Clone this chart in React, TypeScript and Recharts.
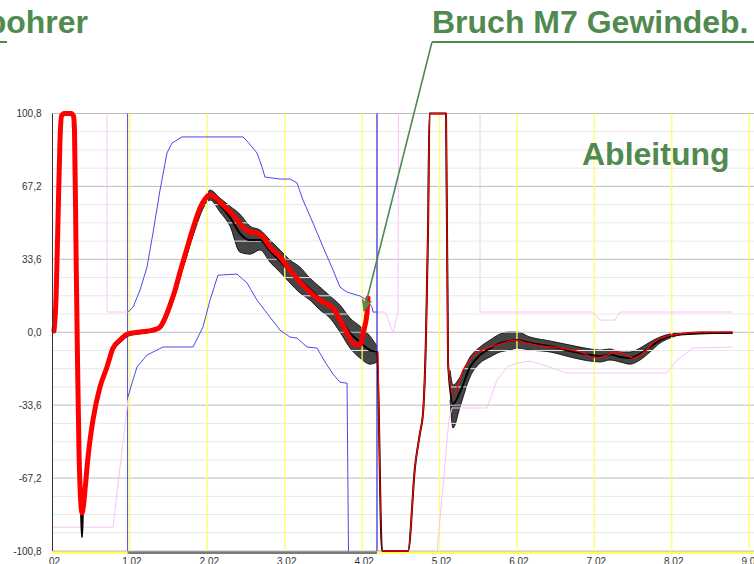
import React from "react";
import { Area, ComposedChart, Line, ReferenceArea, ReferenceLine, XAxis, YAxis } from "recharts";

// x = time (axis labels 02, 1.02 ... 9.02), y = derivative value

type Pt = [number, number];
type Band = [number, number, number];

const xTicks = [0.02, 1.02, 2.02, 3.02, 4.02, 5.02, 6.02, 7.02, 8.02, 9.02];
const yTicks = [-100.8, -67.2, -33.6, 0, 33.6, 67.2, 100.8];

// thick red: current measurement (breaks at ~4.1)
const redCurrent: Pt[] = [
    [0.039, 0.6], [0.065, 14.8], [0.091, 51.7], [0.117, 88.6], [0.136, 99.6], [0.169, 100.8], [0.259, 100.8],
    [0.291, 99.6], [0.304, 93.2], [0.324, 37.9], [0.343, -12.8], [0.362, -54.3], [0.388, -79.6], [0.401, -83.3],
    [0.421, -79.6], [0.44, -72.7], [0.479, -57.5], [0.543, -40.4], [0.634, -25.2], [0.724, -16.0], [0.802, -7.3],
    [0.892, -3.6], [0.995, -0.8], [1.15, 0.1], [1.318, 1.0], [1.409, 2.4], [1.473, 6.5], [1.538, 12.5],
    [1.603, 19.4], [1.667, 27.7], [1.732, 35.6], [1.796, 43.4], [1.861, 50.8], [1.926, 57.2], [1.99, 61.4],
    [2.055, 63.2], [2.223, 58.6], [2.352, 54.0], [2.481, 48.5], [2.572, 46.2], [2.662, 45.7], [2.74, 43.9],
    [2.83, 39.3], [2.959, 34.7], [3.088, 28.7], [3.218, 23.1], [3.347, 18.5], [3.476, 14.8], [3.566, 13.0],
    [3.644, 11.1], [3.734, 5.6], [3.825, -0.4], [3.903, -5.0], [3.993, -5.9], [4.032, -0.4], [4.083, 8.8],
    [4.096, 15.8],
];

// thin red: reference curve after the break
const redReference: Pt[] = [
    [4.225, -9.1], [4.277, -100.8], [4.613, -100.8], [4.703, -62.1], [4.768, -46.4], [4.807, -37.2],
    [4.846, -0.4], [4.871, 45.7], [4.891, 100.8], [5.104, 100.8], [5.13, -14.2], [5.194, -28.9], [5.324, -17.4],
    [5.504, -9.6], [5.763, -5.9], [6.021, -3.6], [6.099, -4.5], [6.28, -5.9], [6.577, -7.3], [6.835, -9.1],
    [7.055, -11.9], [7.184, -10.5], [7.326, -9.1], [7.52, -11.9], [7.649, -9.6], [7.778, -5.0], [7.959, -1.8],
    [8.218, -0.4], [8.424, 0.1], [8.799, 0.1],
];

// black: core of the good-part ensemble
const ensembleCore: Pt[] = [
    [0.039, 0.6], [0.065, 14.8], [0.091, 51.7], [0.117, 88.6], [0.136, 99.6], [0.169, 100.8], [0.259, 100.8],
    [0.291, 99.6], [0.304, 93.2], [0.324, 37.9], [0.343, -12.8], [0.362, -54.3], [0.388, -82.0], [0.401, -94.4],
    [0.415, -80.0], [0.44, -72.7], [0.479, -58.5], [0.543, -41.5], [0.634, -26.5], [0.724, -17.0], [0.802, -8.3],
    [0.892, -4.5], [0.995, -1.5], [1.15, -0.5], [1.318, 0.5], [1.409, 1.6], [1.473, 5.2], [1.538, 10.8],
    [1.603, 17.5], [1.667, 25.5], [1.732, 33.6], [1.796, 41.5], [1.861, 49.0], [1.926, 56.0], [1.99, 60.5],
    [2.055, 62.5], [2.184, 58.5], [2.313, 53.0], [2.442, 45.5], [2.572, 42.5], [2.701, 42.5], [2.83, 37.5],
    [2.959, 32.8], [3.088, 28.0], [3.218, 24.0], [3.347, 19.8], [3.476, 15.5], [3.605, 11.6], [3.734, 6.3],
    [3.864, -0.4], [3.993, -4.5], [4.122, -8.3], [4.212, -9.1], [4.277, -100.8], [4.613, -100.8], [4.703, -62.1],
    [4.768, -46.4], [4.807, -37.2], [4.846, -0.4], [4.871, 45.7], [4.891, 100.8], [5.104, 100.8], [5.13, -14.2],
    [5.194, -33.0], [5.285, -27.5], [5.414, -16.0], [5.543, -10.5], [5.672, -7.5], [5.802, -5.0], [5.931, -4.0],
    [6.021, -3.6], [6.189, -5.0], [6.447, -6.5], [6.706, -8.6], [6.964, -10.5], [7.093, -11.0], [7.222, -10.3],
    [7.351, -11.4], [7.48, -11.9], [7.609, -10.0], [7.738, -6.8], [7.868, -3.6], [7.998, -1.8], [8.127, -0.9],
    [8.385, -0.4], [8.799, -0.2],
];

// ensemble spread [t, low, high]
const ensembleBandLeft: Band[] = [
    [1.732, 32.3, 37.0], [1.861, 47.1, 51.7], [1.99, 58.6, 62.3], [2.055, 60.9, 65.5], [2.184, 55.4, 61.8],
    [2.313, 48.9, 58.1], [2.442, 36.9, 54.4], [2.572, 36.0, 48.9], [2.701, 37.9, 47.1], [2.83, 32.3, 42.5],
    [2.959, 27.7, 37.9], [3.088, 22.7, 33.3], [3.218, 18.1, 30.0], [3.347, 14.8, 24.9], [3.476, 10.2, 20.8],
    [3.605, 6.5, 16.7], [3.734, 0.1, 12.5], [3.864, -7.3, 6.5], [3.993, -11.9, 2.8], [4.122, -14.7, -1.8],
    [4.212, -13.8, -6.4],
];
const ensembleBandRight: Band[] = [
    [5.156, -31.2, -17.4], [5.194, -44.1, -24.3], [5.285, -34.4, -20.6], [5.414, -20.6, -11.4],
    [5.543, -14.2, -6.8], [5.672, -11.4, -3.6], [5.802, -9.1, -0.8], [5.931, -8.2, 0.1], [6.021, -7.3, 0.1],
    [6.189, -8.2, -2.2], [6.447, -9.1, -4.0], [6.706, -11.4, -5.9], [6.964, -13.3, -7.7], [7.093, -13.7, -8.2],
    [7.222, -12.8, -7.7], [7.351, -13.7, -9.1], [7.48, -14.7, -9.1], [7.61, -12.8, -7.3], [7.739, -9.1, -4.5],
    [7.868, -5.0, -2.2], [7.998, -2.7, -0.8], [8.127, -1.3, -0.4], [8.385, -0.8, 0.1], [8.799, -0.4, 0.1],
];

// blue tolerance envelope
const blueUpper: Pt[] = [
    [0.995, 9.3], [1.06, 11.5], [1.15, 19.4], [1.241, 30.0], [1.318, 45.7], [1.409, 65.5], [1.499, 82.6],
    [1.564, 87.2], [1.693, 90.0], [2.481, 90.0], [2.546, 87.6], [2.662, 82.6], [2.727, 76.1], [2.765, 71.5],
    [2.959, 70.6], [3.088, 70.6], [3.179, 68.8], [3.256, 60.9], [3.386, 50.3], [3.515, 39.3], [3.644, 28.7],
    [3.734, 20.8], [3.825, 18.5], [3.993, 16.7], [4.083, 14.8], [4.148, 11.6], [4.161, 9.3], [4.225, 9.3],
];
const blueLower: Pt[] = [
    [0.995, -29.9], [1.047, -23.4], [1.112, -16.0], [1.241, -10.5], [1.448, -6.8], [1.835, -6.8], [1.964, 2.4],
    [2.055, 14.8], [2.158, 26.3], [2.404, 26.8], [2.533, 22.7], [2.662, 14.8], [2.791, 8.8], [2.959, 1.0],
    [3.088, -2.2], [3.179, -2.7], [3.308, -6.8], [3.437, -7.3], [3.541, -13.7], [3.644, -19.3], [3.734, -23.0],
    [3.825, -23.5], [3.844, -100.8],
];

// pink envelope pieces
const pinkUpperA: Pt[] = [[0.724, 100.8], [0.724, 9.3], [0.995, 9.3]];
const pinkUpperB: Pt[] = [[4.225, 9.3], [4.32, 9.3], [4.419, -0.4], [4.484, 9.3], [4.49, 100.8]];
const pinkUpperC: Pt[] = [
    [5.543, 100.8], [5.543, 9.3], [7.003, 9.3], [7.093, 5.6], [7.287, 5.6], [7.351, 9.3], [8.799, 9.3],
];
const pinkLowerA: Pt[] = [[0.026, -89.8], [0.802, -89.8], [0.995, -31.2]];
const pinkLowerB: Pt[] = [
    [4.988, -100.8], [5.143, -40.0], [5.182, -34.9], [5.634, -34.9], [5.763, -22.0], [5.892, -16.0],
    [6.021, -14.2], [6.189, -13.3], [6.357, -15.1], [6.667, -18.8], [7.959, -18.8], [8.088, -12.8],
    [8.295, -7.3], [8.799, -6.8],
];

const rows = (pts: Pt[]) => pts.map(([t, v]) => ({ t, v }));
const bandRows = (pts: Band[]) => pts.map(([t, lo, hi]) => ({ t, range: [lo, hi] }));

const FONT = "'Liberation Sans', Arial, sans-serif";
const GREEN = "#508a50";
const BLUE = "#4a4af0";
const PINK = "#f8c4f8";

const minorGrid: number[] = [];
for (let k = -11; k <= 11; k++) if (k % 4 !== 0) minorGrid.push(Number((k * 8.4).toFixed(1)));

export default function App() {
    const line = (data: Pt[], stroke: string, width: number, type: "linear" | "monotone" = "linear") => (
        <Line
            data={rows(data)}
            dataKey="v"
            type={type}
            stroke={stroke}
            strokeWidth={width}
            dot={false}
            activeDot={false}
            isAnimationActive={false}
            strokeLinejoin="round"
            strokeLinecap="round"
        />
    );

    const band = (data: Band[]) => (
        <Area
            data={bandRows(data)}
            dataKey="range"
            type="monotone"
            stroke="#000"
            strokeWidth={0.8}
            fill="#111"
            fillOpacity={0.78}
            isAnimationActive={false}
            dot={false}
            activeDot={false}
        />
    );

    return (
        <div style={{ position: "fixed", left: 0, top: 0, width: 754, height: 564, overflow: "hidden", background: "#fff", fontFamily: FONT }}>
            <ComposedChart width={760} height={564} margin={{ top: 113.5, right: 0, bottom: 0, left: 0 }}>
                <XAxis
                    type="number"
                    dataKey="t"
                    domain={[0.02, 9.16]}
                    ticks={xTicks}
                    tickFormatter={(v: number) => (v === 0.02 ? "02" : v.toFixed(2))}
                    height={13}
                    tickLine={false}
                    axisLine={false}
                    tickSize={0}
                    tickMargin={7}
                    tick={{ fontSize: 10, fill: "#333", fontFamily: FONT, dx: 2 }}
                />
                <YAxis
                    type="number"
                    domain={[-100.8, 100.8]}
                    ticks={yTicks}
                    width={52.5}
                    tickFormatter={(v: number) => v.toFixed(1).replace(".", ",")}
                    tickLine={false}
                    tickSize={0}
                    tickMargin={11}
                    axisLine={{ stroke: "#333" }}
                    tick={{ fontSize: 10, fill: "#333", fontFamily: FONT }}
                />
                {minorGrid.map((v) => (
                    <ReferenceLine key={"mn" + v} y={v} stroke="#e8e8e8" strokeWidth={1} />
                ))}
                {yTicks.map((v) => (
                    <ReferenceLine key={"mj" + v} y={v} stroke="#bdbdbd" strokeWidth={1} />
                ))}
                {xTicks.slice(1).map((v) => (
                    <ReferenceLine key={"vx" + v} x={v} stroke="#ffff66" strokeWidth={1.3} />
                ))}
                <ReferenceLine x={0.99} stroke={BLUE} strokeWidth={1} />
                <ReferenceLine x={4.212} stroke="#2a2ad0" strokeWidth={1.2} />
                <ReferenceArea x1={0.02} x2={0.99} y1={-102.2} y2={-100.8} fill="#ffff66" fillOpacity={1} ifOverflow="visible" />
                <ReferenceArea x1={0.99} x2={4.212} y1={-102.2} y2={-100.8} fill="#7a7a7a" fillOpacity={1} ifOverflow="visible" />
                <ReferenceArea x1={4.212} x2={9.16} y1={-102.2} y2={-100.8} fill="#ffff66" fillOpacity={1} ifOverflow="visible" />

                {line(pinkUpperA, PINK, 1)}
                {line(pinkUpperB, PINK, 1)}
                {line(pinkUpperC, PINK, 1)}
                {line(pinkLowerA, PINK, 1)}
                {line(pinkLowerB, PINK, 1)}
                {line(blueUpper, BLUE, 1)}
                {line(blueLower, BLUE, 1)}

                {band(ensembleBandLeft)}
                {band(ensembleBandRight)}
                {line(ensembleCore, "#000", 2, "monotone")}
                {line(redReference, "#ff0000", 1.3, "monotone")}
                {line(redCurrent, "#ff0000", 5, "monotone")}
            </ComposedChart>

            <svg width={754} height={564} style={{ position: "absolute", left: 0, top: 0, pointerEvents: "none" }}>
                <defs>
                    <marker id="ah" viewBox="0 0 12 10" refX={11} refY={5} markerWidth={13} markerHeight={11} markerUnits="userSpaceOnUse" orient="auto">
                        <path d="M0,0 L12,5 L0,10 L3,5 z" fill={GREEN} />
                    </marker>
                </defs>
                <text x={88} y={33} textAnchor="end" fontSize={32} fontWeight="bold" fill={GREEN} fontFamily={FONT}>
                    bohrer
                </text>
                <line x1={0} y1={42} x2={7} y2={42} stroke={GREEN} strokeWidth={2} />
                <text x={432} y={33} fontSize={32} fontWeight="bold" fill={GREEN} fontFamily={FONT}>
                    Bruch M7 Gewindeb.
                </text>
                <line x1={432} y1={42} x2={754} y2={42} stroke={GREEN} strokeWidth={2} />
                <line x1={432} y1={42} x2={364} y2={311} stroke={GREEN} strokeWidth={1.6} markerEnd="url(#ah)" />
                <text x={582} y={165} fontSize={32} fontWeight="bold" fill={GREEN} fontFamily={FONT}>
                    Ableitung
                </text>
            </svg>
        </div>
    );
}
